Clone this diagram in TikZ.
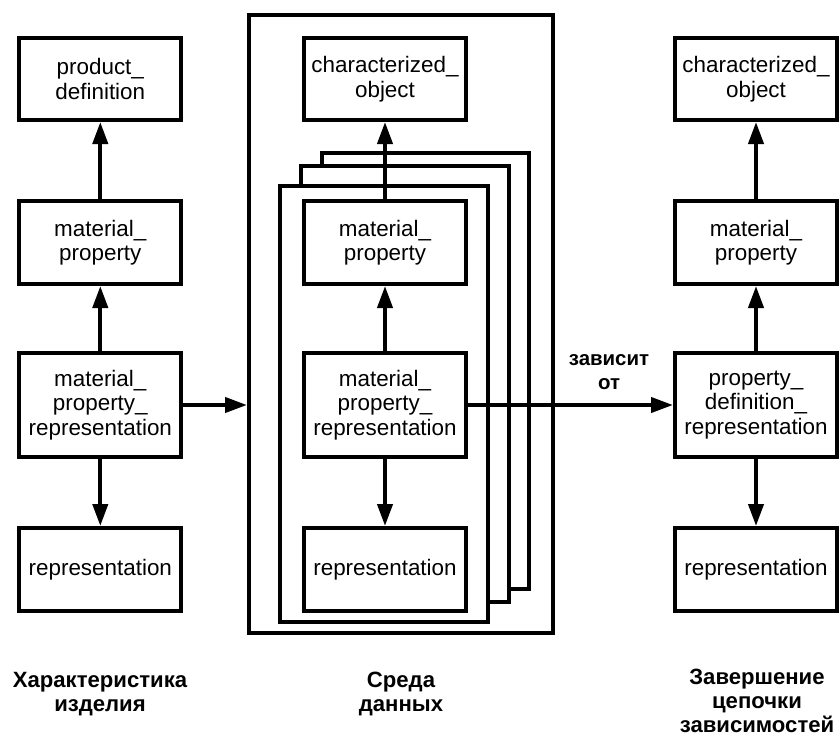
\documentclass[tikz,border=0pt]{standalone}
\usepackage{fontspec}
\setmainfont{Liberation Sans}
\usetikzlibrary{arrows.meta}
\begin{document}
\begin{tikzpicture}[x=1bp,y=-1bp,
 box/.style={draw,line width=4bp,fill=white,minimum width=162bp,inner sep=0pt,align=center,font=\fontsize{22.5}{24.5}\selectfont},
 stackframe/.style={draw,line width=4bp,fill=white,inner sep=0pt},
 arr/.style={line width=4bp,-{Triangle[length=22bp,width=15bp]}},
 lbl/.style={align=center,inner sep=0pt,font=\bfseries\fontsize{22.2}{24}\selectfont},
 dep/.style={align=center,inner sep=0pt,font=\bfseries\fontsize{20.5}{24}\selectfont}]
\useasboundingbox (0,0) rectangle (839,738);
% left column
\node[box,minimum height=82bp]  (lpd)  at (100.3,79)    {product\_\\definition};
\node[box,minimum height=83bp]  (lmp)  at (100.3,242.5) {material\_\\property};
\node[box,minimum height=104bp] (lmpr) at (100.3,405)   {material\_\\property\_\\representation};
\node[box,minimum height=83bp]  (lrep) at (100.3,569.5) {representation};
% environment frame and stack
\node[stackframe,minimum width=304bp,minimum height=618bp] (env) at (401,324) {};
\node[stackframe,minimum width=207bp,minimum height=436bp] (f3) at (425.5,371) {};
\node[stackframe,minimum width=208bp,minimum height=436bp] (f2) at (405,384) {};
\node[stackframe,minimum width=208bp,minimum height=436bp] (f1) at (384,404) {};
% middle column
\node[box,minimum height=82bp]  (mco)  at (385,79)    {characterized\_\\object};
\node[box,minimum height=83bp]  (mmp)  at (385,242.5) {material\_\\property};
\node[box,minimum height=104bp] (mmpr) at (385,405)   {material\_\\property\_\\representation};
\node[box,minimum height=83bp]  (mrep) at (385,569.5) {representation};
% right column
\node[box,minimum height=82bp]  (rco)  at (756,79)    {characterized\_\\object};
\node[box,minimum height=83bp]  (rmp)  at (756,242.5) {material\_\\property};
\node[box,minimum height=104bp] (rpdr) at (756,405)   {property\_\\definition\_\\representation};
\node[box,minimum height=83bp]  (rrep) at (756,569.5) {representation};
% arrows
\draw[arr] (lmp) -- (lpd);
\draw[arr] (lmpr) -- (lmp);
\draw[arr] (lmpr) -- (lrep);
\draw[arr] (mmp) -- (mco);
\draw[arr] (mmpr) -- (mmp);
\draw[arr] (mmpr) -- (mrep);
\draw[arr] (rmp) -- (rco);
\draw[arr] (rpdr) -- (rmp);
\draw[arr] (rpdr) -- (rrep);
\draw[arr] (lmpr.east) -- (env.west |- lmpr.east);
\draw[arr] (mmpr.east) -- (rpdr.west);
% labels
\node[dep] (dl) at (609,372) {зависит\\от};
\node[lbl] (l1) at (100,694) {Характеристика\\изделия};
\node[lbl] (l2) at (401,694) {Среда\\данных};
\node[lbl] (l3) at (757,701) {Завершение\\цепочки\\зависимостей};
\end{tikzpicture}
\end{document}
